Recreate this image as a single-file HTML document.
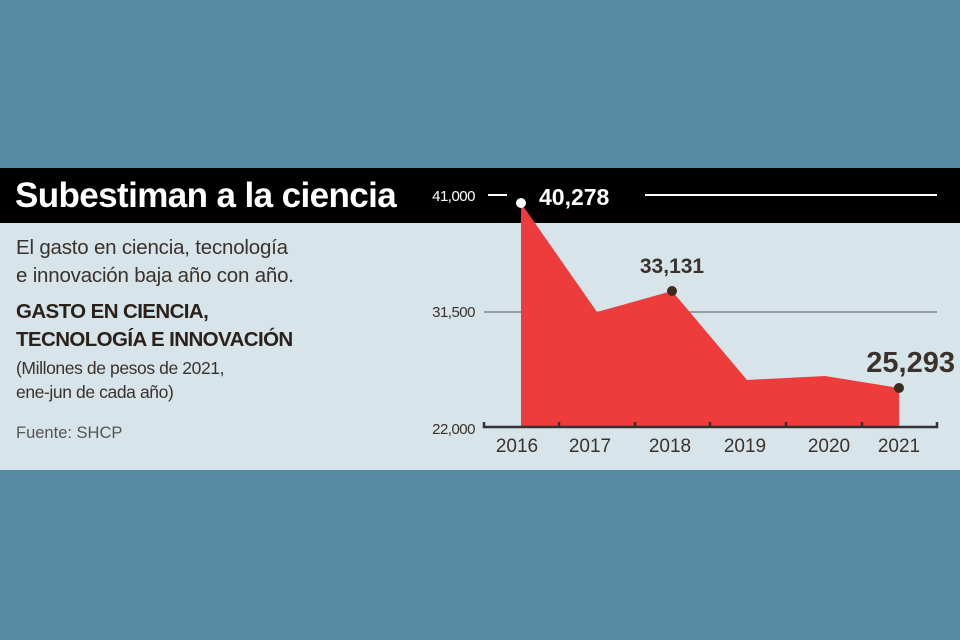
<!DOCTYPE html>
<html><head><meta charset="utf-8"><style>
body{margin:0;width:960px;height:640px;background:#568ca3;position:relative;overflow:hidden;font-family:"Liberation Sans",sans-serif}
.t{position:absolute;white-space:nowrap;color:#3a322c}
</style></head><body>
<div style="position:absolute;left:0;top:168px;width:960px;height:55px;background:#000"></div>
<div style="position:absolute;left:0;top:223px;width:960px;height:247px;background:#d7e4ea"></div>
<div class="t" style="left:15px;top:176px;font-size:35px;font-weight:bold;color:#fff;letter-spacing:-0.6px">Subestiman a la ciencia</div>
<div class="t" style="left:16px;top:234px;font-size:20.5px;line-height:28px;letter-spacing:-0.2px">El gasto en ciencia, tecnología<br>e innovación baja año con año.</div>
<div class="t" style="left:16px;top:298px;font-size:20.5px;line-height:28px;font-weight:bold;color:#2b211b;letter-spacing:-0.6px">GASTO EN CIENCIA,<br>TECNOLOGÍA E INNOVACIÓN</div>
<div class="t" style="left:16px;top:356px;font-size:17.5px;line-height:24px;letter-spacing:-0.4px">(Millones de pesos de 2021,<br>ene-jun de cada año)</div>
<div class="t" style="left:16px;top:424px;font-size:16.5px;color:#555">Fuente: SHCP</div>
<svg width="960" height="640" style="position:absolute;left:0;top:0" font-family="Liberation Sans, sans-serif">
<line x1="488" y1="195" x2="507" y2="195" stroke="#fff" stroke-width="2"/>
<line x1="645" y1="195" x2="937" y2="195" stroke="#fff" stroke-width="2"/>
<line x1="484" y1="312" x2="937" y2="312" stroke="#555" stroke-width="1"/>
<polygon points="521,203 597,312 672,291 747,380 825,376 899,388 899,427 521,427" fill="#ee3b3b"/>
<path d="M484,422 V427 H937 V422 M559,427 V422 M635,427 V422 M710,427 V422 M786,427 V422 M862,427 V422" stroke="#333" stroke-width="2.5" fill="none"/>
<circle cx="521" cy="203" r="5" fill="#fff"/>
<circle cx="672" cy="291" r="5" fill="#3a2a20"/>
<circle cx="899" cy="388" r="5" fill="#3a2a20"/>
<g font-size="15" fill="#fff" text-anchor="end" letter-spacing="-0.5"><text x="475" y="201">41,000</text></g>
<g font-size="15" fill="#3a322c" text-anchor="end" letter-spacing="-0.5"><text x="475" y="317">31,500</text><text x="475" y="434">22,000</text></g>
<text x="539" y="205" font-size="23" fill="#fff" font-weight="bold">40,278</text>
<text x="672" y="273" font-size="21" fill="#3a322c" font-weight="bold" text-anchor="middle">33,131</text>
<text x="955" y="372" font-size="29" fill="#3a322c" font-weight="bold" text-anchor="end">25,293</text>
<g font-size="19" fill="#3a322c" text-anchor="middle"><text x="517" y="452">2016</text><text x="590" y="452">2017</text><text x="670" y="452">2018</text><text x="745" y="452">2019</text><text x="829" y="452">2020</text><text x="899" y="452">2021</text></g>
</svg>
</body></html>
